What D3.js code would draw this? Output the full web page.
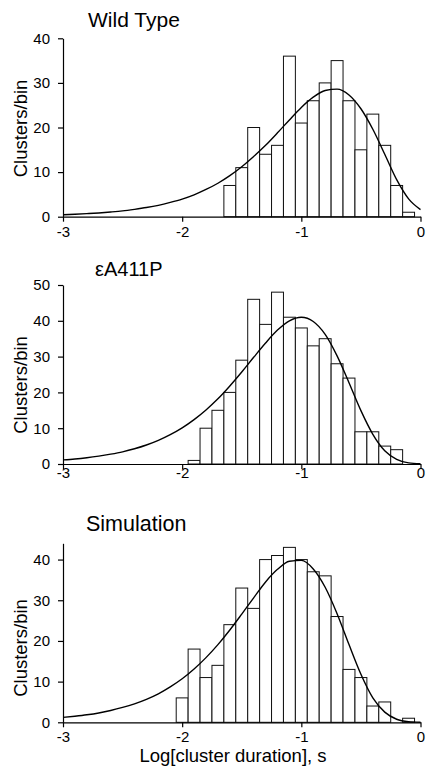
<!DOCTYPE html>
<html><head><meta charset="utf-8">
<script src="https://cdn.jsdelivr.net/npm/d3@7"></script>
<style>
body{margin:0;background:#fff}
svg{display:block}
text{font-family:"Liberation Sans",Arial,Helvetica,sans-serif;fill:#000}
</style>
</head><body>
<svg id="chart" width="426" height="774"></svg>
<script>
// ---------- DATA ----------
const titles = ["Wild Type", "εA411P", "Simulation"];
const yAxisLabel = "Clusters/bin";
const xAxisLabel = "Log[cluster duration], s";
const xTickValues = [-3, -2, -1, 0];
const binWidth = 0.1;

const wtBinCenters = [-1.6,-1.5,-1.4,-1.3,-1.2,-1.1,-1.0,-0.9,-0.8,-0.7,-0.6,-0.5,-0.4,-0.3,-0.2,-0.1];
const wtCounts     = [7,11,20,14,16,36,21,26,30,35,26,15,23,16,7,1];

const mutBinCenters = [-1.9,-1.8,-1.7,-1.6,-1.5,-1.4,-1.3,-1.2,-1.1,-1.0,-0.9,-0.8,-0.7,-0.6,-0.5,-0.4,-0.3,-0.2];
const mutCounts     = [1,10,15,20,29,46,39,48,41,38,33,35,28,24,9,9,5,4];

const simBinCenters = [-2.0,-1.9,-1.8,-1.7,-1.6,-1.5,-1.4,-1.3,-1.2,-1.1,-1.0,-0.9,-0.8,-0.7,-0.6,-0.5,-0.4,-0.3,-0.2,-0.1];
const simCounts     = [6,18,11,14,24,33,28,40,41,43,40,37,36,26,13,11,4,5,0,1];

// fitted curves at each x
const fitX = [-3.0,-2.9,-2.8,-2.7,-2.6,-2.5,-2.4,-2.3,-2.2,-2.1,-2.0,-1.9,-1.8,-1.7,-1.6,-1.5,-1.4,-1.3,-1.2,-1.1,-1.0,-0.9,-0.8,-0.7,-0.6,-0.5,-0.4,-0.3,-0.2,-0.1,0.0];
const wtFit  = [0.45,0.55,0.68,0.84,1.05,1.3,1.65,2.05,2.55,3.2,3.95,4.9,6.1,7.5,9.2,11.2,13.5,16.0,18.8,21.7,24.5,26.8,28.3,28.6,27.3,24.2,19.6,14.0,8.3,4.0,1.6];
const mutFit = [1.15,1.4,1.75,2.2,2.75,3.4,4.25,5.3,6.6,8.2,10.1,12.4,15.1,18.2,21.8,25.7,29.8,33.8,37.4,40.0,41.0,39.8,36.2,30.2,22.7,14.9,8.3,3.7,1.3,0.3,0.05];
const simFit = [1.2,1.5,1.85,2.3,2.9,3.65,4.55,5.65,7.0,8.7,10.7,13.1,15.9,19.1,22.7,26.6,30.6,34.5,37.6,39.6,39.8,37.7,33.2,26.7,19.1,11.8,6.0,2.5,0.75,0.16,0.02];

const yTicksWT  = [0,10,20,30,40];
const yTicksMut = [0,10,20,30,40,50];
const yTicksSim = [0,10,20,30,40];
const yMaxes = [40, 50, 44];

// ---------- LAYOUT ----------
const svg = d3.select("#chart");
const x = d3.scaleLinear().domain([-3, 0]).range([63, 420.5]);

const panels = [
  {title: titles[0], centers: wtBinCenters, counts: wtCounts, fit: wtFit, yTicks: yTicksWT, yMax: yMaxes[0],
   top: 38.3, bottom: 216.7, titleX: 88, titleY: 27, titleSize: 21, ylabY: 128.5, xTickBase: 20.5},
  {title: titles[1], centers: mutBinCenters, counts: mutCounts, fit: mutFit, yTicks: yTicksMut, yMax: yMaxes[1],
   top: 285, bottom: 464, titleX: 95, titleY: 276, titleSize: 20, ylabY: 385, xTickBase: 13.5},
  {title: titles[2], centers: simBinCenters, counts: simCounts, fit: simFit, yTicks: yTicksSim, yMax: yMaxes[2],
   top: 543.3, bottom: 722.3, titleX: 86, titleY: 531, titleSize: 21.5, ylabY: 648, xTickBase: 19.5}
];

panels.forEach(p => {
  const y = d3.scaleLinear().domain([0, p.yMax]).range([p.bottom, p.top]);
  const g = svg.append("g");

  // bars
  g.selectAll("rect.bar").data(p.centers.map((c, i) => ({c, v: p.counts[i]})).filter(d => d.v > 0))
    .join("rect").attr("class", "bar")
    .attr("x", d => x(d.c - binWidth / 2))
    .attr("width", d => x(d.c + binWidth / 2) - x(d.c - binWidth / 2))
    .attr("y", d => y(d.v))
    .attr("height", d => y(0) - y(d.v))
    .attr("fill", "#fff").attr("stroke", "#111").attr("stroke-width", 1);

  // fitted curve
  const line = d3.line().x((d, i) => x(fitX[i])).y(d => y(d)).curve(d3.curveMonotoneX);
  g.append("path").datum(p.fit).attr("d", line)
    .attr("fill", "none").attr("stroke", "#000").attr("stroke-width", 1.4);

  // y axis
  const ya = g.append("g").attr("transform", `translate(${x(-3)},0)`)
    .call(d3.axisLeft(y).tickValues(p.yTicks).tickSize(5).tickSizeOuter(0).tickPadding(8));
  ya.select(".domain").attr("stroke", "#000").attr("stroke-width", 1.2);
  ya.selectAll(".tick line").attr("stroke", "#000").attr("stroke-width", 1.2);
  ya.selectAll("text").attr("font-size", 15).attr("font-family", '"Liberation Sans",Arial,sans-serif').attr("fill", "#000");

  // x axis
  const xa = g.append("g").attr("transform", `translate(0,${p.bottom})`)
    .call(d3.axisBottom(x).tickValues(xTickValues).tickSize(5).tickSizeOuter(0).tickFormat(d3.format("d")));
  xa.select(".domain").attr("stroke", "#000").attr("stroke-width", 1.2);
  xa.selectAll(".tick line").attr("stroke", "#000").attr("stroke-width", 1.2);
  xa.selectAll("text").attr("font-size", 15).attr("y", p.xTickBase).attr("dy", 0)
    .attr("font-family", '"Liberation Sans",Arial,sans-serif').attr("fill", "#000")
    .text(d => d === 0 ? "0" : String(d).replace("−", "-"));

  // title
  g.append("text").attr("x", p.titleX).attr("y", p.titleY).attr("font-size", p.titleSize).text(p.title);

  // y label
  g.append("text").attr("transform", `translate(26.5,${p.ylabY}) rotate(-90)`)
    .attr("text-anchor", "middle").attr("font-size", 18.5).text(yAxisLabel);
});

// x axis label
svg.append("text").attr("x", 233).attr("y", 762).attr("text-anchor", "middle")
  .attr("font-size", 18.5).text(xAxisLabel);
</script>
</body></html>
